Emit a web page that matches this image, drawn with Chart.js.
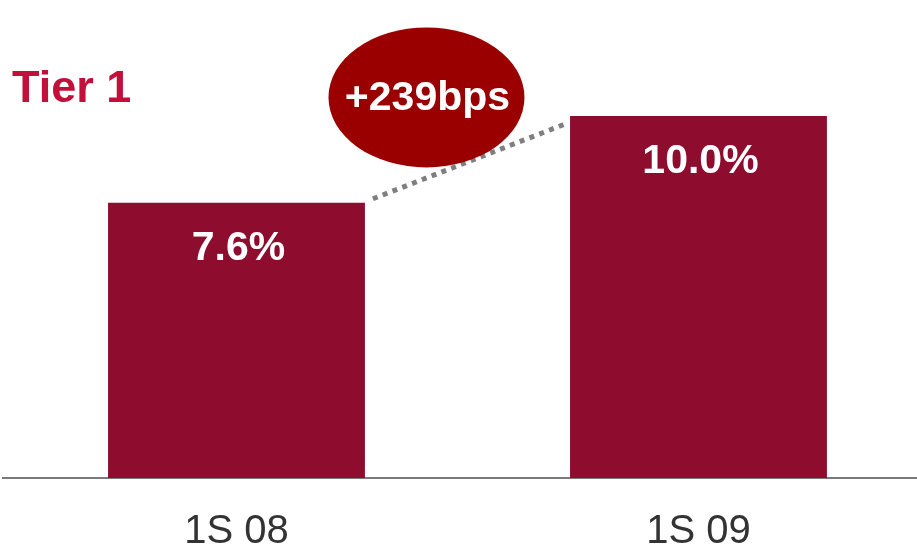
<!DOCTYPE html>
<html>
<head>
<meta charset="utf-8">
<script src="https://cdn.jsdelivr.net/npm/chart.js@4/dist/chart.umd.min.js"></script>
<style>
  html, body { margin: 0; padding: 0; background: #fff; }
  #wrap { width: 917px; height: 550px; position: relative; }
</style>
</head>
<body>
<div id="wrap"><canvas id="grafica"></canvas></div>
<script>
// Datos
const periodos = ['1S 08', '1S 09'];
const tier1 = [7.6, 10.0];
const tituloTexto = 'Tier 1';
const deltaTexto = '+239bps';

const colorBarra = '#8e0c2e';
const colorTitulo = '#c2103a';
const colorElipse = '#9b0000';

// Etiquetas de valor, titulo y burbuja con la variacion
const anotaciones = {
    id: 'anotaciones',
    afterDatasetsDraw(chart) {
        const ctx = chart.ctx;
        const barras = chart.getDatasetMeta(0).data;
        const b0 = barras[0], b1 = barras[1];
        const w0 = b0.width, w1 = b1.width;

        ctx.save();
        // valores dentro de las barras
        ctx.fillStyle = '#ffffff';
        ctx.font = 'bold 41px "Liberation Sans", Arial, sans-serif';
        ctx.textAlign = 'center';
        ctx.textBaseline = 'middle';
        barras.forEach((b, i) => {
            ctx.fillText(tier1[i].toFixed(1) + '%', b.x + 2, b.y + 46);
        });

        // titulo
        ctx.fillStyle = colorTitulo;
        ctx.font = 'bold 45px "Liberation Sans", Arial, sans-serif';
        ctx.textAlign = 'left';
        ctx.textBaseline = 'alphabetic';
        ctx.fillText(tituloTexto, 12, 102);

        // linea punteada entre barras
        ctx.strokeStyle = '#7f7f7f';
        ctx.lineWidth = 5;
        ctx.setLineDash([5, 5.5]);
        ctx.beginPath();
        ctx.moveTo(b0.x + w0 / 2 + 8, b0.y - 4);
        ctx.lineTo(b1.x - w1 / 2 - 2, b1.y + 7);
        ctx.stroke();
        ctx.setLineDash([]);

        // elipse
        const cx = (b0.x + b1.x) / 2 - 41;
        const cy = b1.y - 18.5;
        ctx.fillStyle = colorElipse;
        ctx.beginPath();
        ctx.ellipse(cx, cy, 98, 70, 0, 0, Math.PI * 2);
        ctx.fill();

        ctx.fillStyle = '#ffffff';
        ctx.font = 'bold 41px "Liberation Sans", Arial, sans-serif';
        ctx.textAlign = 'center';
        ctx.textBaseline = 'middle';
        ctx.fillText(deltaTexto, cx + 1, cy + 1);
        ctx.restore();
    }
};

new Chart(document.getElementById('grafica'), {
    type: 'bar',
    data: {
        datasets: [{
            label: tituloTexto,
            data: tier1.map((v, i) => ({ x: i, y: v })),
            backgroundColor: colorBarra,
            categoryPercentage: 1,
            barPercentage: 0.556,
        }]
    },
    options: {
        responsive: true,
        maintainAspectRatio: false,
        animation: false,
        layout: { padding: { left: 3, right: 0, top: 0, bottom: 0 } },
        plugins: {
            legend: { display: false },
            tooltip: { enabled: false },
        },
        scales: {
            x: {
                type: 'linear',
                min: -0.5054,
                max: 1.473,
                offset: false,
                bounds: 'data',
                grid: { display: false, drawTicks: false, offset: false },
                border: { display: true, color: '#7a7a7a', width: 2 },
                afterBuildTicks: s => { s.ticks = periodos.map((p, i) => ({ value: i })); },
                afterFit: s => { s.height = 72; },
                ticks: {
                    padding: 30,
                    color: '#333333',
                    autoSkip: false,
                    maxRotation: 0,
                    font: { family: '"Liberation Sans Narrow", "Arial Narrow", "Liberation Sans", Arial, sans-serif', size: 40 },
                    callback: v => periodos[v],
                },
            },
            y: {
                display: false,
                min: 0,
                max: 13.2,
            }
        }
    },
    plugins: [anotaciones]
});
</script>
</body>
</html>
